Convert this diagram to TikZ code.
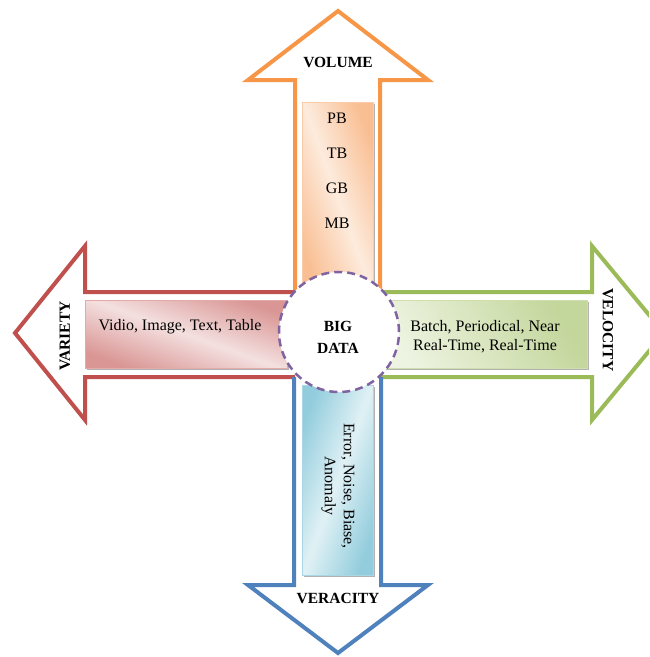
\documentclass[tikz,border=0pt]{standalone}
\usepackage{fontspec}
\setmainfont{Liberation Serif}
\usetikzlibrary{shadows}
\definecolor{cOr}{HTML}{F79646}
\definecolor{cOrD}{HTML}{F9BE92}
\definecolor{cOrL}{HTML}{FDEBDD}
\definecolor{cRe}{HTML}{C0504D}
\definecolor{cReD}{HTML}{D99694}
\definecolor{cReL}{HTML}{F4E0E0}
\definecolor{cGr}{HTML}{9BBB59}
\definecolor{cGrD}{HTML}{C3D69B}
\definecolor{cGrL}{HTML}{EEF4E2}
\definecolor{cBl}{HTML}{4F81BD}
\definecolor{cBlD}{HTML}{93CDDD}
\definecolor{cBlL}{HTML}{E0F1F5}
\definecolor{cPu}{HTML}{8064A2}
\begin{document}
\begin{tikzpicture}[x=1pt,y=-1pt,
  arr/.style={line width=4pt, line join=miter, fill=white},
  box/.style={draw=#1D!80!white, line width=0.5pt, inner sep=0pt,
    drop shadow={shadow xshift=1.5pt, shadow yshift=-1.5pt, fill=black!30, opacity=1}},
  txt/.style={font=\fontsize{16}{19}\selectfont, inner sep=0pt, align=center},
  lbl/.style={font=\fontsize{15.5}{22}\selectfont\bfseries, inner sep=0pt, align=center}]
\useasboundingbox (0,0) rectangle (649,657);
\clip (0,0) rectangle (649,657);
% arrows
\draw[arr, draw=cOr] (295,292) -- (295,80) -- (248,80) -- (338,11) -- (428,80) -- (380,80) -- (380,292);
\draw[arr, draw=cRe] (295,292) -- (85,292) -- (85,246) -- (15,333) -- (85,420) -- (85,377) -- (295,377);
\draw[arr, draw=cGr] (380,292) -- (592,292) -- (592,246) -- (664,333) -- (592,420) -- (592,377) -- (380,377);
\draw[arr, draw=cBl] (294,377) -- (294,585) -- (248,585) -- (338,653) -- (428,585) -- (381,585) -- (381,377);
% boxes
\node[box=cOr, minimum width=71pt, minimum height=190pt, shading=axis,
  left color=cOrD, right color=cOrD, middle color=cOrL, shading angle=110] (vbox) at (337.5,197) {};
\node[box=cRe, minimum width=202pt, minimum height=68pt, shading=axis,
  left color=cReD, right color=cReD, middle color=cReL, shading angle=160] (rbox) at (186,334) {};
\node[box=cGr, minimum width=210pt, minimum height=68pt, shading=axis,
  left color=cGrL, right color=cGrD, shading angle=120] (gbox) at (482,334) {};
\node[box=cBl, minimum width=71pt, minimum height=190pt, shading=axis,
  left color=cBlD, right color=cBlD, middle color=cBlL, shading angle=70] (bbox) at (337.5,480) {};
% circle
\node[draw=cPu, fill=white, line width=2.5pt, dash pattern=on 8pt off 5pt,
  circle, minimum size=120pt, inner sep=0pt] (core) at (339,332) {};
\node[lbl] (big) at (338,337) {BIG\\DATA};
% labels
\node[lbl] (lvol) at (338,62) {VOLUME};
\node[lbl, rotate=90] (lvar) at (65,336) {VARIETY};
\node[lbl, rotate=-90] (lvel) at (608,330) {VELOCITY};
\node[lbl] (lver) at (338,598) {VERACITY};
% box texts
\node[txt] (pb) at (337,118) {PB};
\node[txt] (tb) at (337,153) {TB};
\node[txt] (gb) at (337,188) {GB};
\node[txt] (mb) at (337,223) {MB};
\node[txt] (vtx) at (180,327) {Vidio, Image, Text, Table};
\node[txt] (gtx) at (485,337) {Batch, Periodical, Near\\Real-Time, Real-Time};
\node[txt, rotate=-90] (btx) at (338,486) {Error, Noise, Biase,\\Anomaly};
\end{tikzpicture}
\end{document}
